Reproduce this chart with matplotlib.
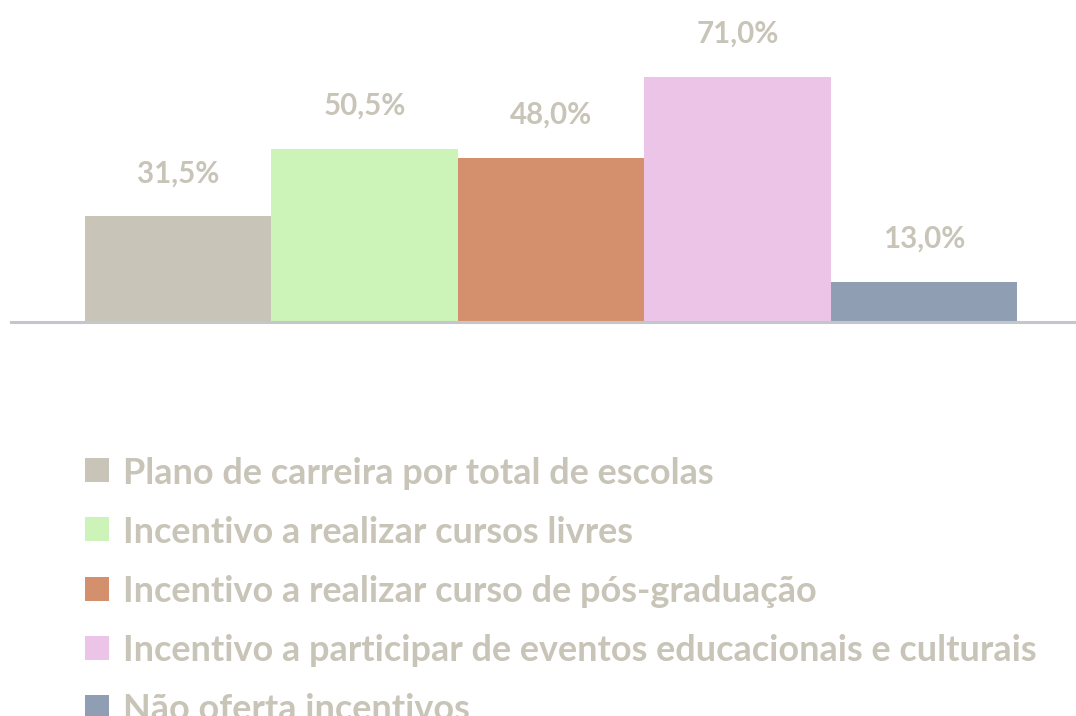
import matplotlib
matplotlib.use("Agg")
import matplotlib.pyplot as plt
from matplotlib.patches import Rectangle

categories = [
    "Plano de carreira por total de escolas",
    "Incentivo a realizar cursos livres",
    "Incentivo a realizar curso de pós-graduação",
    "Incentivo a participar de eventos educacionais e culturais",
    "Não oferta incentivos",
]
values = [31.5, 50.5, 48.0, 71.0, 13.0]
colors = ["#c8c4b8", "#ccf4b8", "#d4906c", "#ecc4e8", "#909eb4"]
text_color = "#c8c4b8"

W, H = 1076, 716
DPI = 100
FONT = "Lato"
WEIGHT = "bold"

fig = plt.figure(figsize=(W / DPI, H / DPI), dpi=DPI)
fig.patch.set_facecolor("white")

ax = fig.add_axes([11 / W, (H - 321.5) / H, 1065 / W, 321.5 / H])
x = list(range(len(values)))
ax.bar(x, values, width=1.0, color=colors, linewidth=0)
ax.set_xlim(-0.897, 4.817)
ax.set_ylim(1.684, 92.66)
for s in ["top", "left", "right"]:
    ax.spines[s].set_visible(False)
ax.spines["bottom"].set_color("#c3c6cb")
ax.spines["bottom"].set_linewidth(2.2)
ax.spines["bottom"].set_zorder(3)
ax.set_xticks([])
ax.set_yticks([])
ax.patch.set_alpha(0)

renderer = fig.canvas.get_renderer()

def fit_size(s, target_px, base=20):
    t = fig.text(0, 0, s, fontsize=base, family=FONT, weight=WEIGHT)
    w = t.get_window_extent(renderer).width
    t.remove()
    return base * target_px / w

label_size = fit_size("71,0%", 83)
for xi, v in zip(x, values):
    ax.annotate(f"{v:.1f}%".replace(".", ","), (xi, v), xytext=(0, 34 * 72 / DPI),
                textcoords="offset points", ha="center", va="baseline",
                fontsize=label_size, family=FONT, weight=WEIGHT, color=text_color,
                annotation_clip=False)

leg_size = fit_size(categories[3], 914)
row_h = 59.25
for i, (cat, col) in enumerate(zip(categories, colors)):
    top = 458 + i * row_h
    fig.add_artist(Rectangle((85 / W, 1 - (top + 24) / H), 24 / W, 24 / H,
                             transform=fig.transFigure, color=col, linewidth=0))
    fig.text(123 / W, 1 - (top + 25.5) / H, cat, fontsize=leg_size, family=FONT,
             weight=WEIGHT, color=text_color, ha="left", va="baseline")

fig.savefig("out.png", dpi=DPI, facecolor="white")
